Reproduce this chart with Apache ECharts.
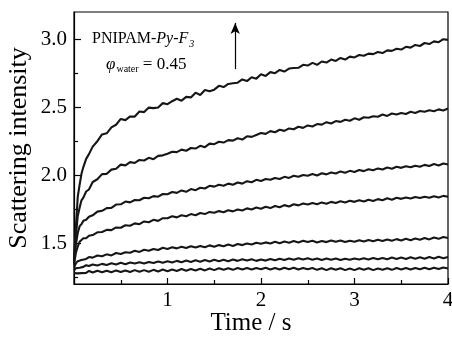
<!DOCTYPE html>
<html>
<head>
<meta charset="utf-8">
<script src="https://cdn.jsdelivr.net/npm/echarts@6/dist/echarts.min.js"></script>
<style>
html,body{margin:0;padding:0;background:#fff;}
#chart{width:452px;height:337px;}
</style>
</head>
<body>
<div id="chart"></div>
<script>
const times = [0,0.02,0.04,0.06,0.08,0.10,0.13,0.16,0.20,0.25,
0.30,0.35,0.40,0.45,0.50,0.55,0.60,0.65,0.70,0.75,0.80,0.85,0.90,0.95,1.00,
1.05,1.10,1.15,1.20,1.25,1.30,1.35,1.40,1.45,1.50,
1.55,1.60,1.65,1.70,1.75,1.80,1.85,1.90,1.95,2.00,
2.05,2.10,2.15,2.20,2.25,2.30,2.35,2.40,2.45,2.50,
2.55,2.60,2.65,2.70,2.75,2.80,2.85,2.90,2.95,3.00,
3.05,3.10,3.15,3.20,3.25,3.30,3.35,3.40,3.45,3.50,
3.55,3.60,3.65,3.70,3.75,3.80,3.85,3.90,3.95,4.00];

const curve1 = [1.38,1.62,1.84,1.93,2.01,2.06,2.12,2.155,2.21,2.25,
2.30,2.308,2.351,2.371,2.414,2.405,2.432,2.431,2.468,2.464,2.497,2.493,2.498,2.53,2.522,
2.544,2.562,2.548,2.576,2.572,2.607,2.59,2.626,2.617,2.629,
2.657,2.648,2.671,2.676,2.68,2.704,2.692,2.72,2.71,2.742,
2.73,2.758,2.75,2.774,2.762,2.784,2.788,2.79,2.812,2.806,
2.826,2.812,2.836,2.828,2.85,2.84,2.862,2.85,2.872,2.866,
2.884,2.878,2.894,2.89,2.906,2.898,2.918,2.914,2.93,2.924,
2.944,2.938,2.958,2.95,2.972,2.964,2.984,2.978,3.0,2.995];

const curve2 = [1.36,1.55,1.70,1.76,1.815,1.835,1.88,1.895,1.95,1.97,
2.008,2.01,2.041,2.048,2.078,2.072,2.096,2.09,2.112,2.108,2.128,2.118,2.142,2.146,2.158,
2.172,2.17,2.188,2.18,2.2,2.196,2.216,2.206,2.232,2.228,
2.246,2.24,2.258,2.254,2.272,2.262,2.286,2.282,2.296,2.31,
2.304,2.324,2.316,2.334,2.326,2.344,2.338,2.356,2.348,2.366,
2.358,2.376,2.372,2.39,2.38,2.398,2.392,2.408,2.4,2.418,
2.408,2.426,2.422,2.434,2.43,2.446,2.436,2.454,2.446,2.458,
2.45,2.466,2.458,2.472,2.466,2.478,2.47,2.484,2.476,2.49];

const curve3 = [1.36,1.49,1.575,1.625,1.64,1.665,1.672,1.695,1.705,1.732,
1.738,1.758,1.76,1.784,1.786,1.806,1.8,1.818,1.816,1.834,1.83,1.846,1.842,1.862,1.86,
1.876,1.87,1.888,1.878,1.898,1.89,1.908,1.902,1.922,1.916,
1.93,1.922,1.938,1.93,1.946,1.938,1.956,1.948,1.966,1.958,
1.972,1.966,1.98,1.972,1.988,1.98,1.996,1.988,2.002,1.996,
2.008,1.998,2.014,2.006,2.02,2.012,2.028,2.018,2.032,2.024,
2.038,2.03,2.044,2.036,2.05,2.042,2.056,2.048,2.062,2.054,
2.066,2.058,2.07,2.062,2.076,2.068,2.082,2.072,2.086,2.078];

const curve4 = [1.34,1.43,1.475,1.51,1.515,1.536,1.536,1.555,1.56,1.58,
1.582,1.598,1.596,1.616,1.614,1.632,1.628,1.646,1.64,1.66,1.654,1.672,1.664,1.684,1.684,
1.698,1.69,1.706,1.698,1.714,1.706,1.722,1.714,1.73,1.724,
1.736,1.728,1.742,1.734,1.748,1.74,1.756,1.748,1.762,1.754,
1.768,1.758,1.774,1.764,1.78,1.77,1.786,1.778,1.792,1.784,
1.796,1.786,1.8,1.79,1.804,1.796,1.808,1.8,1.812,1.804,
1.816,1.806,1.82,1.81,1.824,1.816,1.83,1.82,1.834,1.826,
1.836,1.828,1.84,1.832,1.842,1.834,1.846,1.836,1.848,1.842];

const curve5 = [1.32,1.352,1.368,1.38,1.376,1.39,1.384,1.398,1.394,1.41,
1.404,1.418,1.41,1.428,1.42,1.434,1.43,1.444,1.436,1.452,1.444,1.458,1.45,1.466,1.458,
1.47,1.462,1.474,1.464,1.478,1.468,1.48,1.47,1.484,1.474,
1.486,1.478,1.49,1.48,1.494,1.486,1.498,1.49,1.504,1.496,
1.506,1.498,1.51,1.5,1.512,1.504,1.516,1.506,1.518,1.508,
1.518,1.506,1.516,1.508,1.52,1.51,1.52,1.508,1.518,1.51,
1.522,1.512,1.524,1.514,1.526,1.516,1.528,1.518,1.53,1.52,
1.532,1.522,1.534,1.526,1.538,1.528,1.542,1.532,1.546,1.538];

const curve6 = [1.30,1.316,1.326,1.32,1.332,1.326,1.338,1.332,1.344,1.336,
1.348,1.34,1.352,1.344,1.356,1.346,1.358,1.35,1.36,1.35,1.362,1.354,1.366,1.356,1.368,
1.358,1.37,1.36,1.372,1.362,1.374,1.364,1.376,1.366,1.378,
1.368,1.378,1.368,1.38,1.37,1.382,1.372,1.382,1.37,1.38,
1.372,1.384,1.374,1.386,1.376,1.388,1.378,1.39,1.38,1.39,
1.378,1.388,1.376,1.388,1.378,1.388,1.376,1.386,1.378,1.388,
1.38,1.39,1.38,1.392,1.382,1.392,1.382,1.394,1.384,1.394,
1.384,1.396,1.386,1.396,1.386,1.398,1.388,1.4,1.39,1.398];

const curve7 = [1.28,1.29,1.278,1.292,1.28,1.294,1.282,1.296,1.284,1.298,
1.286,1.298,1.286,1.3,1.288,1.3,1.288,1.302,1.29,1.302,1.29,1.304,1.292,1.306,1.294,
1.306,1.296,1.31,1.298,1.31,1.3,1.312,1.3,1.314,1.302,
1.316,1.304,1.316,1.304,1.318,1.306,1.318,1.306,1.318,1.308,
1.32,1.306,1.318,1.306,1.32,1.308,1.32,1.306,1.318,1.308,
1.318,1.304,1.316,1.302,1.316,1.304,1.316,1.302,1.314,1.302,
1.316,1.304,1.316,1.302,1.314,1.304,1.316,1.304,1.318,1.306,
1.318,1.306,1.318,1.308,1.32,1.308,1.32,1.31,1.322,1.314];

const curves = [curve1, curve2, curve3, curve4, curve5, curve6, curve7];

const xTickLabels = [1, 2, 3, 4];
const yTickLabels = [1.5, 2.0, 2.5, 3.0];
const yMinorTicks = [1.25, 1.75, 2.25, 2.75];
const arrowFrom = [1.724, 2.78];
const arrowTo = [1.724, 3.12];

const FONT = 'Liberation Serif';
const chart = echarts.init(document.getElementById('chart'), null, {renderer: 'canvas'});

const series = curves.map((c, k) => ({
  type: 'line',
  data: times.map((t, i) => [t, c[i]]),
  showSymbol: false,
  symbol: 'none',
  lineStyle: {color: '#161616', width: 2.1},
  animation: false,
  markLine: k === 0 ? {
    silent: true,
    symbol: ['none', 'arrow'],
    symbolSize: [7, 11],
    label: {show: false},
    lineStyle: {color: '#000', width: 1.2, type: 'solid'},
    data: [[{coord: arrowFrom}, {coord: arrowTo}]]
  } : undefined
}));

chart.setOption({
  animation: false,
  backgroundColor: '#fff',
  grid: {left: 74, top: 12, width: 374, height: 272, show: true, borderColor: '#000', borderWidth: 1.2,
    backgroundColor: 'transparent', outerBoundsMode: 'none', containLabel: false},
  xAxis: {
    type: 'value', min: 0, max: 4, interval: 1,
    axisLine: {show: true, lineStyle: {color: '#000', width: 1.2}},
    axisTick: {show: true, inside: true, length: 6, lineStyle: {color: '#000', width: 1.2}},
    minorTick: {show: true, splitNumber: 2, length: 4, lineStyle: {color: '#000', width: 1.2}},
    splitLine: {show: false},
    axisLabel: {color: '#000', fontFamily: FONT, fontSize: 21, margin: 6,
      customValues: xTickLabels, formatter: v => String(v)},
    name: 'Time / s', nameLocation: 'middle', nameGap: 27, nameMoveOverlap: false,
    nameTextStyle: {color: '#000', fontFamily: FONT, fontSize: 25, padding: [0, 20, 0, 0]}
  },
  yAxis: [{
    type: 'value', min: 1.2, max: 3.2,
    axisLine: {show: true, lineStyle: {color: '#000', width: 1.2}},
    axisTick: {show: true, inside: true, length: 7, customValues: yTickLabels, lineStyle: {color: '#000', width: 1.2}},
    splitLine: {show: false},
    axisLabel: {color: '#000', fontFamily: FONT, fontSize: 21, margin: 7,
      customValues: yTickLabels, formatter: v => v.toFixed(1)},
    name: 'Scattering intensity', nameLocation: 'middle', nameGap: 42, nameMoveOverlap: false,
    nameTextStyle: {color: '#000', fontFamily: FONT, fontSize: 26}
  }, {
    type: 'value', min: 1.2, max: 3.2, position: 'left',
    axisLine: {show: false},
    axisTick: {show: true, inside: true, length: 4, customValues: yMinorTicks, lineStyle: {color: '#000', width: 1.2}},
    axisLabel: {show: false},
    splitLine: {show: false}
  }],
  graphic: [{
    type: 'text', left: 92, top: 31,
    style: {
      text: '{r|PNIPAM-}{i|Py-F}{s|3}',
      rich: {
        r: {fontFamily: FONT, fontSize: 16, fill: '#000'},
        i: {fontFamily: FONT, fontSize: 16, fontStyle: 'italic', fill: '#000'},
        s: {fontFamily: FONT, fontSize: 10, fontStyle: 'italic', fill: '#000', padding: [10, 0, 0, 1]}
      }
    }
  }, {
    type: 'text', left: 106, top: 56,
    style: {
      text: '{i|φ}{s|water}{r| = 0.45}',
      rich: {
        i: {fontFamily: FONT, fontSize: 17, fontStyle: 'italic', fill: '#000'},
        s: {fontFamily: FONT, fontSize: 10, fill: '#000', padding: [10, 0, 0, 1]},
        r: {fontFamily: FONT, fontSize: 17, fill: '#000'}
      }
    }
  }],
  series: series
});
</script>
</body>
</html>
